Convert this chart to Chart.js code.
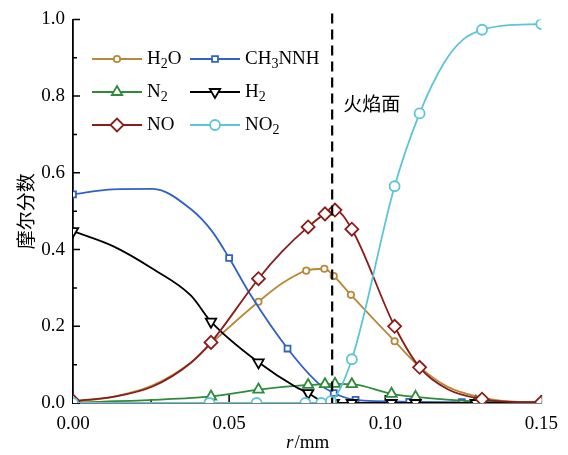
<!DOCTYPE html>
<html>
<head>
<meta charset="utf-8">
<script src="https://cdn.jsdelivr.net/npm/chart.js@4.4.0/dist/chart.umd.min.js"></script>
<style>
  html, body { margin: 0; padding: 0; background: #fff; }
</style>
</head>
<body>
<canvas id="myChart" width="568" height="455"></canvas>
<script>
// radial position r (mm) and mole fraction for each species; mark = 1 draws a symbol
const h2oR    = [0, 0.0128, 0.0255, 0.0378, 0.0442, 0.0594, 0.067, 0.0747, 0.0805, 0.0835, 0.089, 0.103, 0.111, 0.120, 0.131, 0.140, 0.150];
const h2oY    = [0.003, 0.016, 0.046, 0.106, 0.155, 0.264, 0.312, 0.345, 0.350, 0.331, 0.282, 0.161, 0.094, 0.042, 0.014, 0.004, 0.002];
const h2oMark = [1, 0, 0, 0, 0, 1, 0, 1, 1, 1, 1, 1, 1, 0, 1, 0, 1];

const ch3R    = [0, 0.0128, 0.0255, 0.0378, 0.0445, 0.050, 0.057, 0.0687, 0.0785, 0.0835, 0.0905, 0.1077, 0.1245, 0.150];
const ch3Y    = [0.544, 0.557, 0.558, 0.505, 0.448, 0.378, 0.280, 0.142, 0.052, 0.026, 0.008, 0.003, 0.002, 0.001];
const ch3Mark = [1, 0, 0, 0, 0, 1, 0, 1, 0, 1, 1, 1, 1, 0];

const n2R     = [0, 0.0255, 0.0442, 0.0594, 0.0753, 0.0807, 0.0839, 0.0893, 0.102, 0.1097, 0.129, 0.150];
const n2Y     = [0.001, 0.008, 0.017, 0.035, 0.047, 0.049, 0.050, 0.049, 0.024, 0.016, 0.004, 0.001];
const n2Mark  = [1, 0, 1, 1, 1, 1, 1, 1, 1, 1, 1, 1];

const h2R     = [0, 0.0128, 0.0255, 0.0378, 0.0442, 0.0594, 0.0715, 0.0753, 0.079, 0.0835, 0.0893, 0.102, 0.1097, 0.129, 0.150];
const h2Y     = [0.448, 0.409, 0.350, 0.280, 0.212, 0.106, 0.041, 0.026, 0.008, 0.0, 0.0, 0.0, 0.0, 0.0, 0.0];
const h2Mark  = [1, 0, 0, 0, 1, 1, 0, 1, 0, 1, 1, 1, 1, 1, 0];

const noR     = [0, 0.0128, 0.0255, 0.0378, 0.0442, 0.0594, 0.067, 0.0753, 0.0807, 0.0839, 0.0893, 0.103, 0.111, 0.120, 0.131, 0.140, 0.150];
const noY     = [0.005, 0.016, 0.043, 0.105, 0.158, 0.324, 0.395, 0.459, 0.493, 0.503, 0.453, 0.200, 0.093, 0.036, 0.010, 0.003, 0.002];
const noMark  = [1, 0, 0, 0, 1, 1, 0, 1, 1, 1, 1, 1, 1, 0, 1, 0, 1];

const no2R    = [0, 0.0437, 0.0588, 0.0744, 0.0795, 0.0826, 0.0893, 0.103, 0.111, 0.119, 0.125, 0.131, 0.138, 0.150];
const no2Y    = [0.0, 0.0, 0.0, 0.0, 0.0, 0.005, 0.114, 0.565, 0.755, 0.889, 0.948, 0.973, 0.984, 0.988];
const no2Mark = [1, 1, 1, 1, 1, 1, 1, 1, 1, 0, 0, 1, 0, 1];

const xTicks = [0, 0.05, 0.10, 0.15];
const yTicks = [0, 0.2, 0.4, 0.6, 0.8, 1.0];
const flameR = 0.083;

const SERIF = '"Liberation Serif", "Times New Roman", serif';
const CJK = '"Noto Sans CJK SC", sans-serif';

function pts(rs, ys) {
    return rs.map((r, i) => ({ x: r, y: ys[i] }));
}

function series(label, rs, ys, marks, color, style, radius, rotation, order) {
    return {
        label: label,
        data: pts(rs, ys),
        borderColor: color,
        backgroundColor: '#fff',
        borderWidth: 1.8,
        pointStyle: style,
        pointRotation: rotation,
        pointRadius: marks.map(m => m ? radius : 0),
        pointBorderWidth: 1.8,
        pointBorderColor: color,
        pointBackgroundColor: '#fff',
        cubicInterpolationMode: 'monotone',
        fill: false,
        order: order,
    };
}

const datasets = [
    series('H_2O', h2oR, h2oY, h2oMark, '#B8893A', 'circle', 3.2, 0, 5),
    series('CH_3NNH', ch3R, ch3Y, ch3Mark, '#2F62C4', 'rect', 4.2, 0, 4),
    series('N_2', n2R, n2Y, n2Mark, '#2E8B3A', 'triangle', 6, 0, 3),
    series('H_2', h2R, h2Y, h2Mark, '#000000', 'triangle', 6, 180, 2),
    series('NO', noR, noY, noMark, '#8B1C1C', 'rectRot', 6.5, 0, 1),
    series('NO_2', no2R, no2Y, no2Mark, '#5CC6D6', 'circle', 5, 0, 0),
];

// text with '_' before a character that is set as a subscript
function drawSubText(ctx, text, x, y, size) {
    let cx = x;
    for (let i = 0; i < text.length; i++) {
        let ch = text[i];
        let sub = false;
        if (ch === '_') { sub = true; ch = text[++i]; }
        ctx.font = (sub ? Math.round(size * 0.72) : size) + 'px ' + SERIF;
        ctx.fillText(ch, cx, sub ? y + size * 0.28 : y);
        cx += ctx.measureText(ch).width;
    }
}

const extras = {
    id: 'extras',
    beforeDatasetsDraw(chart) {
        const ctx = chart.ctx;
        const xs = chart.scales.x, ys = chart.scales.y;
        const area = chart.chartArea;
        ctx.save();
        ctx.strokeStyle = '#000';
        ctx.lineWidth = 1.5;
        ctx.beginPath();
        // inward ticks, long on the labelled values, short halfway between
        yTicks.forEach((v, i) => {
            const py = ys.getPixelForValue(v);
            ctx.moveTo(area.left, py); ctx.lineTo(area.left + 7, py);
            if (i > 0) {
                const pm = ys.getPixelForValue(v - 0.1);
                ctx.moveTo(area.left, pm); ctx.lineTo(area.left + 4, pm);
            }
        });
        xTicks.forEach((v, i) => {
            const px = xs.getPixelForValue(v);
            ctx.moveTo(px, area.bottom); ctx.lineTo(px, area.bottom - 8);
            if (i > 0) {
                const pm = xs.getPixelForValue(v - 0.025);
                ctx.moveTo(pm, area.bottom); ctx.lineTo(pm, area.bottom - 4);
            }
        });
        ctx.stroke();
        ctx.restore();
    },
    afterDatasetsDraw(chart) {
        const ctx = chart.ctx;
        const xs = chart.scales.x;
        const area = chart.chartArea;
        ctx.save();

        // flame front
        const fx = xs.getPixelForValue(flameR);
        ctx.strokeStyle = '#000';
        ctx.lineWidth = 2.2;
        ctx.setLineDash([10, 6]);
        ctx.beginPath();
        ctx.moveTo(fx, area.top - 6);
        ctx.lineTo(fx, area.bottom);
        ctx.stroke();
        ctx.setLineDash([]);

        ctx.fillStyle = '#000';
        ctx.textBaseline = 'middle';
        ctx.textAlign = 'left';
        ctx.font = '19px ' + CJK;
        ctx.fillText('火焰面', fx + 11, 104);

        // legend, two columns
        const rowsY = [59, 92, 125];
        const colsX = [92, 190];
        chart.data.datasets.forEach((ds, i) => {
            const lx = colsX[i % 2], ly = rowsY[Math.floor(i / 2)];
            ctx.strokeStyle = ds.borderColor;
            ctx.lineWidth = ds.borderWidth;
            ctx.beginPath();
            ctx.moveTo(lx, ly); ctx.lineTo(lx + 50, ly);
            ctx.stroke();
            ctx.fillStyle = '#fff';
            ctx.lineWidth = ds.pointBorderWidth;
            Chart.helpers.drawPoint(ctx, {
                pointStyle: ds.pointStyle,
                rotation: ds.pointRotation,
                radius: Math.max(...ds.pointRadius),
                borderWidth: ds.pointBorderWidth,
            }, lx + 25, ly);
            ctx.fillStyle = '#000';
            drawSubText(ctx, ds.label, lx + 55, ly, 19);
        });

        // x axis title, italic r
        ctx.font = 'italic 19px ' + SERIF;
        const w1 = ctx.measureText('r').width;
        ctx.font = '19px ' + SERIF;
        const w2 = ctx.measureText('/mm').width;
        const tx = (area.left + area.right) / 2 - (w1 + w2) / 2;
        ctx.font = 'italic 19px ' + SERIF;
        ctx.fillText('r', tx, 443);
        ctx.font = '19px ' + SERIF;
        ctx.fillText('/mm', tx + w1 + 1, 443);
        ctx.restore();
    }
};

const ctx = document.getElementById('myChart').getContext('2d');
const chart = new Chart(ctx, {
    type: 'line',
    data: { datasets: datasets },
    options: {
        responsive: false,
        animation: false,
        events: [],
        layout: { padding: { top: 17, right: 23, left: 0, bottom: 0 } },
        plugins: { legend: { display: false }, tooltip: { enabled: false } },
        scales: {
            x: {
                type: 'linear',
                min: 0,
                max: 0.15,
                afterBuildTicks: s => { s.ticks = xTicks.map(v => ({ value: v })); },
                afterFit: s => { s.height = 52; },
                grid: { display: false, drawTicks: false },
                border: { display: true, color: '#000', width: 1.5 },
                ticks: {
                    padding: 10,
                    color: '#000',
                    font: { family: SERIF, size: 19 },
                    maxRotation: 0,
                    callback: v => v.toFixed(2),
                },
            },
            y: {
                min: 0,
                max: 1,
                afterBuildTicks: s => { s.ticks = yTicks.map(v => ({ value: v })); },
                afterFit: s => { s.width = 73; },
                grid: { display: false, drawTicks: false },
                border: { display: true, color: '#000', width: 1.8 },
                ticks: {
                    padding: 8,
                    color: '#000',
                    font: { family: SERIF, size: 19 },
                    callback: v => v.toFixed(1),
                },
                title: {
                    display: true,
                    text: '摩尔分数',
                    color: '#000',
                    font: { family: CJK, size: 19 },
                    padding: { top: 14, bottom: 0 },
                },
            },
        },
    },
    plugins: [extras],
});
</script>
</body>
</html>
